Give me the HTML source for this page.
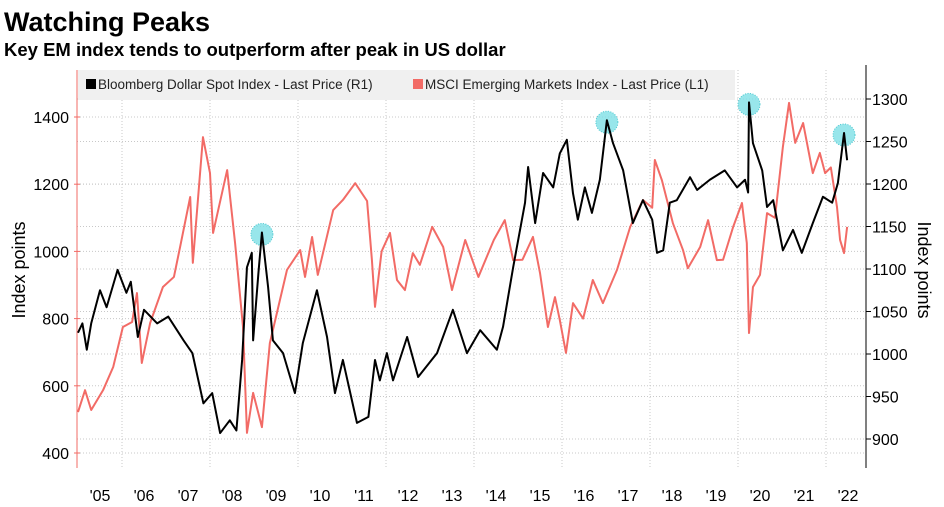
<!DOCTYPE html>
<html><head><meta charset="utf-8">
<style>
body{margin:0;background:#fff;font-family:"Liberation Sans","DejaVu Sans",sans-serif;}
#wrap{position:relative;width:944px;height:507px;overflow:hidden;}
</style></head>
<body>
<div id="wrap">
<svg id="chart" width="944" height="507" viewBox="0 0 944 507">
<text x="4" y="31" font-size="27" font-weight="bold" fill="#000">Watching Peaks</text>
<text x="4" y="56" font-size="18.5" font-weight="bold" fill="#000">Key EM index tends to outperform after peak in US dollar</text>
<g id="grid"></g>
<rect x="78" y="70" width="657" height="30" fill="#f0f0f0"/>
<rect x="86" y="79" width="10" height="10" fill="#000"/>
<text x="98" y="89" font-size="13.5" fill="#222">Bloomberg Dollar Spot Index - Last Price (R1)</text>
<rect x="413" y="79" width="10" height="10" fill="#f26b66"/>
<text x="425" y="89" font-size="13.5" fill="#222">MSCI Emerging Markets Index - Last Price (L1)</text>
<g id="axes"></g>
<g id="series"></g>
<text transform="translate(25,270) rotate(-90)" text-anchor="middle" font-size="18" fill="#000">Index points</text>
<text transform="translate(918,270) rotate(90)" text-anchor="middle" font-size="18" fill="#000">Index points</text>
</svg>
</div>
<script>
const years = ["'05","'06","'07","'08","'09","'10","'11","'12","'13","'14","'15","'16","'17","'18","'19","'20","'21","'22"];
const leftTicks = [400,600,800,1000,1200,1400];
const rightTicks = [900,950,1000,1050,1100,1150,1200,1250,1300];
const dollarDates = [2005.0,2005.1,2005.2,2005.3,2005.5,2005.65,2005.9,2006.1,2006.2,2006.36,2006.5,2006.8,2007.05,2007.4,2007.6,2007.85,2008.05,2008.23,2008.45,2008.6,2008.73,2008.84,2008.95,2008.98,2009.1,2009.18,2009.32,2009.43,2009.66,2009.93,2010.11,2010.43,2010.66,2010.84,2011.02,2011.34,2011.6,2011.75,2011.86,2012.02,2012.16,2012.48,2012.73,2013.16,2013.52,2013.84,2014.14,2014.52,2014.66,2014.89,2015.16,2015.23,2015.39,2015.57,2015.8,2015.95,2016.11,2016.25,2016.36,2016.52,2016.68,2016.86,2017.02,2017.16,2017.39,2017.61,2017.84,2018.05,2018.16,2018.3,2018.45,2018.61,2018.91,2019.07,2019.36,2019.7,2019.98,2020.16,2020.23,2020.25,2020.34,2020.55,2020.66,2020.8,2021.02,2021.25,2021.45,2021.7,2021.93,2022.14,2022.27,2022.41,2022.48];
const dollarValues = [1025,1036,1005,1036,1075,1055,1099,1072,1085,1020,1052,1036,1044,1016,1001,942,954,907,922,910,993,1102,1119,1016,1095,1143,1079,1016,1001,954,1013,1075,1020,954,993,919,926,993,969,1001,969,1020,973,1001,1052,1001,1028,1005,1032,1102,1178,1220,1154,1213,1196,1236,1252,1189,1158,1196,1166,1205,1275,1248,1216,1154,1181,1158,1119,1122,1178,1181,1208,1193,1205,1216,1196,1205,1190,1296,1248,1216,1173,1181,1122,1146,1119,1154,1185,1178,1201,1260,1228];
const emDates = [2005.0,2005.16,2005.3,2005.57,2005.8,2006.02,2006.23,2006.34,2006.45,2006.64,2006.93,2007.18,2007.32,2007.55,2007.61,2007.84,2008.0,2008.07,2008.39,2008.57,2008.75,2008.84,2008.98,2009.18,2009.36,2009.75,2010.05,2010.16,2010.32,2010.45,2010.8,2011.02,2011.3,2011.57,2011.68,2011.75,2011.9,2012.09,2012.25,2012.43,2012.61,2012.77,2013.05,2013.3,2013.5,2013.8,2014.1,2014.45,2014.7,2014.89,2015.1,2015.34,2015.5,2015.68,2015.84,2015.95,2016.09,2016.25,2016.48,2016.7,2016.93,2017.25,2017.55,2017.84,2018.05,2018.11,2018.27,2018.52,2018.75,2018.86,2019.14,2019.32,2019.52,2019.66,2019.89,2020.09,2020.2,2020.25,2020.34,2020.5,2020.66,2020.84,2021.02,2021.16,2021.3,2021.48,2021.7,2021.86,2021.98,2022.11,2022.25,2022.32,2022.41,2022.48];
const emValues = [522,587,528,587,656,775,790,876,668,787,894,924,1013,1162,966,1340,1233,1055,1242,1025,775,460,579,477,727,945,1004,924,1043,930,1123,1153,1203,1150,974,835,1000,1055,915,885,995,960,1073,1013,885,1034,924,1034,1093,974,975,1043,936,775,864,796,698,846,800,915,846,945,1073,1153,1130,1272,1212,1084,1004,950,1013,1093,974,975,1073,1144,1025,757,894,930,1114,1100,1311,1442,1323,1382,1233,1293,1233,1250,1132,1034,995,1073];
const peakDates = [2009.18,2017.02,2020.25,2022.41];

const NS="http://www.w3.org/2000/svg";
const X0=78, PX_YR=44, PL=77, PR=866, PT=70, PB=468;
function xs(t){return X0+(t-2005)*PX_YR;}
function yl(v){return 453-(v-400)*0.336;}
function yr(v){return 99-(v-1300)*0.85;}
function mk(tag,attrs,parent){const e=document.createElementNS(NS,tag);for(const k in attrs)e.setAttribute(k,attrs[k]);parent.appendChild(e);return e;}
const grid=document.getElementById('grid'),axes=document.getElementById('axes'),series=document.getElementById('series');

for(let y=2006;y<=2022;y+=2){
  const g=mk('line',{x1:xs(y),x2:xs(y),y1:PT,y2:PB,stroke:'#c8c8c8','stroke-dasharray':'1,2'},grid);
  
  
}
leftTicks.forEach(v=>{
  const g=mk('line',{x1:PL,x2:PR,y1:yl(v),y2:yl(v),stroke:'#c8c8c8','stroke-dasharray':'1,2'},grid);
  
  
  const t=mk('line',{x1:PL-3,x2:PL+3,y1:yl(v),y2:yl(v),stroke:'#f26b66'},axes);
  
  
  const l=mk('text',{x:PL-8,y:yl(v)+6,'text-anchor':'end','font-size':'16',fill:'#000'},axes);
  l.textContent=v;
  
  
});
rightTicks.forEach(v=>{
  const g=mk('line',{x1:PL,x2:PR,y1:yr(v),y2:yr(v),stroke:'#c8c8c8','stroke-dasharray':'1,2'},grid);
  
  
  const t=mk('line',{x1:PR,x2:PR+5,y1:yr(v),y2:yr(v),stroke:'#000'},axes);
  
  
  const l=mk('text',{x:PR+6,y:yr(v)+6,'font-size':'16',fill:'#000'},axes);
  l.textContent=v;
  
  
});
const la=mk('line',{x1:PL,x2:PL,y1:PT,y2:PB,stroke:'#f26b66','stroke-width':1},axes);


const ra=mk('line',{x1:PR,x2:PR,y1:PT-5,y2:PB,stroke:'#000','stroke-width':1},axes);


years.forEach((lab,i)=>{
  const l=mk('text',{x:xs(2005.5+i),y:501,'text-anchor':'middle','font-size':'16',fill:'#000'},axes);
  l.textContent=lab;
  
  
});
const em=mk('polyline',{points:emDates.map((t,i)=>xs(t)+','+yl(emValues[i])).join(' '),fill:'none',stroke:'#f26b66','stroke-width':2,'stroke-linejoin':'round'},series);


peakDates.forEach(d=>{
  const i=dollarDates.indexOf(d);
  const c=mk('circle',{cx:xs(d),cy:yr(dollarValues[i])+2,r:11,fill:'#7ee0e6','fill-opacity':0.8,stroke:'#4cc8d0','stroke-dasharray':'1,1.5'},series);
  
  
});
const usd=mk('polyline',{points:dollarDates.map((t,i)=>xs(t)+','+yr(dollarValues[i])).join(' '),fill:'none',stroke:'#000','stroke-width':2,'stroke-linejoin':'round'},series);


</script>
</body></html>
